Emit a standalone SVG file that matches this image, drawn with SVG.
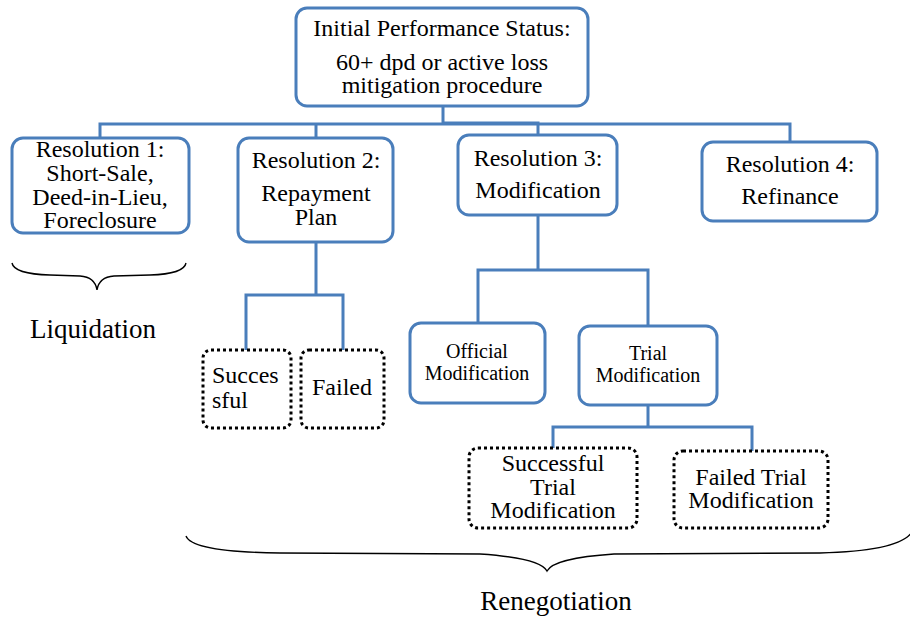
<svg xmlns="http://www.w3.org/2000/svg" width="910" height="622" viewBox="0 0 910 622">
<style>
.box{fill:#fff;stroke:#4a7ebb;stroke-width:3}
.dot{fill:#fff;stroke:#000;stroke-width:3;stroke-dasharray:3 3}
.t{font-family:"Liberation Serif","Times New Roman",serif;font-size:24px;fill:#000;text-anchor:middle}
.s{font-size:20px}
.b{font-size:27px}
.c{fill:none;stroke:#4a7ebb;stroke-width:3}
.br{fill:none;stroke:#000;stroke-width:1.4}
</style>
<rect width="910" height="622" fill="#fff"/>
<g id="connectors">
<path class="c" d="M443,106 V123 H538 V135"/>
<path class="c" d="M100,138 V124 H790 V142"/>
<path class="c" d="M316,124 V138"/>
<path class="c" d="M316,242 V295 M246,350 V295 H343 V350"/>
<path class="c" d="M538,215 V270 M478,323 V270 H648 V326"/>
<path class="c" d="M648,405 V427 M553,448 V427 H752 V451"/>
</g>
<g id="initial">
<rect class="box" x="296" y="8" width="292" height="98" rx="11"/>
<text class="t" x="442" y="36">Initial Performance Status:</text>
<text class="t" x="442" y="70">60+ dpd or active loss</text>
<text class="t" x="442" y="93">mitigation procedure</text>
</g>
<g id="res1">
<rect class="box" x="12" y="138" width="177" height="95" rx="11"/>
<text class="t" x="100" y="157">Resolution 1:</text>
<text class="t" x="100" y="181">Short-Sale,</text>
<text class="t" x="100" y="205">Deed-in-Lieu,</text>
<text class="t" x="100" y="228">Foreclosure</text>
</g>
<g id="res2">
<rect class="box" x="238" y="138" width="155" height="104" rx="11"/>
<text class="t" x="316" y="168">Resolution 2:</text>
<text class="t" x="316" y="201">Repayment</text>
<text class="t" x="316" y="225">Plan</text>
</g>
<g id="res3">
<rect class="box" x="458" y="135" width="159" height="80" rx="11"/>
<text class="t" x="538" y="166">Resolution 3:</text>
<text class="t" x="538" y="198">Modification</text>
</g>
<g id="res4">
<rect class="box" x="702" y="142" width="175" height="79" rx="11"/>
<text class="t" x="790" y="172">Resolution 4:</text>
<text class="t" x="790" y="204">Refinance</text>
</g>
<g id="successful">
<rect class="dot" x="203" y="350" width="88" height="78" rx="8"/>
<text class="t" x="212" y="383" style="text-anchor:start">Succes</text>
<text class="t" x="212" y="408" style="text-anchor:start">sful</text>
</g>
<g id="failed">
<rect class="dot" x="301" y="350" width="83" height="78" rx="8"/>
<text class="t" x="342" y="395">Failed</text>
</g>
<g id="official">
<rect class="box" x="410" y="323" width="135" height="80" rx="11"/>
<text class="t s" x="477" y="358">Official</text>
<text class="t s" x="477" y="380">Modification</text>
</g>
<g id="trial">
<rect class="box" x="579" y="326" width="138" height="79" rx="11"/>
<text class="t s" x="648" y="360">Trial</text>
<text class="t s" x="648" y="382">Modification</text>
</g>
<g id="succtrial">
<rect class="dot" x="469" y="448" width="168" height="80" rx="9"/>
<text class="t" x="553" y="471">Successful</text>
<text class="t" x="553" y="495">Trial</text>
<text class="t" x="553" y="518">Modification</text>
</g>
<g id="failtrial">
<rect class="dot" x="674" y="451" width="154" height="77" rx="9"/>
<text class="t" x="751" y="485">Failed Trial</text>
<text class="t" x="751" y="508">Modification</text>
</g>
<g id="liquidation">
<path class="br" d="M12,263 Q14,274 50,275 L80,276 Q95,277 97,290 Q99,277 114,276 L150,275 Q184,274 186,263"/>
<text class="t b" x="93" y="338">Liquidation</text>
</g>
<g id="renegotiation">
<path class="br" d="M186,536 Q192,552 280,553 L480,554 Q540,558 547,571 Q554,558 614,554 L820,553 Q900,551 912,532"/>
<text class="t b" x="556" y="610">Renegotiation</text>
</g>
</svg>
